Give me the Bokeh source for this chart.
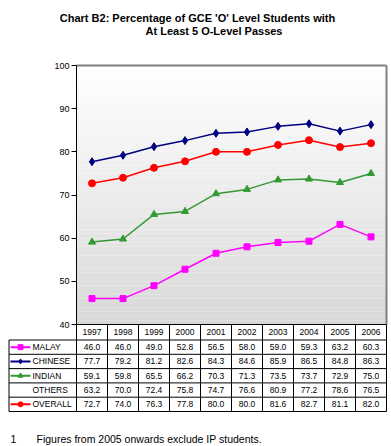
from bokeh.plotting import figure
from bokeh.models import Range1d, LinearAxis, FixedTicker
from bokeh.core.properties import value
from bokeh.embed import file_html
from bokeh.resources import INLINE

# ---------------- data ----------------
years = ["1997", "1998", "1999", "2000", "2001", "2002", "2003", "2004", "2005", "2006"]
malay = [46.0, 46.0, 49.0, 52.8, 56.5, 58.0, 59.0, 59.3, 63.2, 60.3]
chinese = [77.7, 79.2, 81.2, 82.6, 84.3, 84.6, 85.9, 86.5, 84.8, 86.3]
indian = [59.1, 59.8, 65.5, 66.2, 70.3, 71.3, 73.5, 73.7, 72.9, 75.0]
others = [63.2, 70.0, 72.4, 75.8, 74.7, 76.6, 80.9, 77.2, 78.6, 76.5]
overall = [72.7, 74.0, 76.3, 77.8, 80.0, 80.0, 81.6, 82.7, 81.1, 82.0]
series_names = ["MALAY", "CHINESE", "INDIAN", "OTHERS", "OVERALL"]
y_ticks = [40, 50, 60, 70, 80, 90, 100]
title_lines = ["Chart B2: Percentage of GCE 'O' Level Students with",
               "At Least 5 O-Level Passes"]
footnote_mark = "1"
footnote_text = "Figures from 2005 onwards exclude IP students."

# ---------------- styles ----------------
series_values = [malay, chinese, indian, others, overall]
series_colors = ["#FF00FF", "#000080", "#339933", None, "#FF0000"]
series_markers = ["square", "diamond", "triangle", None, "circle"]
series_msize = [6, 8, 7, None, 7]
FONT = value("Liberation Sans")

# pixel geometry helpers (page coords -> data coords)
W, H = 391, 446
ORG = 0                                      # page offset of the canvas
PLOT_L, PLOT_T, PLOT_B = 76, 65, 324         # page px of plot area
YMIN, YMAX = 40, 100
PXX = 31.0                                   # px per category column
KY = (PLOT_B - PLOT_T) / (YMAX - YMIN)       # px per y unit


def xp(page_x):
    return -0.5 + (page_x - PLOT_L) / PXX


def yp(page_y):
    return YMAX - (page_y - PLOT_T) / KY


p = figure(width=W, height=H, output_backend="svg", toolbar_location=None,
           x_range=Range1d(xp(ORG), xp(ORG + W)), y_range=Range1d(yp(ORG + H), yp(ORG)),
           x_axis_location=None, y_axis_location=None, min_border=0,
           background_fill_color="white", border_fill_color="white")
p.outline_line_color = None
p.grid.visible = False

n = len(years)
xs = list(range(n))
x_left, x_right = -0.5, n - 0.5

# plot area gradient background
nstrip = 60
for i in range(nstrip):
    f = (i + 0.5) / nstrip
    g = int(round(0xD8 + (0xFF - 0xD8) * f))
    y0 = YMIN + (YMAX - YMIN) * i / nstrip
    y1 = YMIN + (YMAX - YMIN) * (i + 1) / nstrip
    p.quad(left=x_left, right=x_right, bottom=y0, top=y1,
           fill_color="#%02x%02x%02x" % (g, g, g), line_color=None)

# plot area frame (top/right gray)
p.segment(x0=[x_left, x_right], y0=[YMAX, YMAX], x1=[x_right, x_right], y1=[YMAX, YMIN],
          line_color="#808080", line_width=2)

# y axis
yaxis = LinearAxis(fixed_location=x_left, bounds=(YMIN, YMAX),
                   ticker=FixedTicker(ticks=y_ticks))
yaxis.axis_line_color = "black"
yaxis.axis_line_width = 1
yaxis.major_tick_in = 0
yaxis.major_tick_out = 5
yaxis.major_tick_line_color = "black"
yaxis.minor_tick_line_color = None
yaxis.major_label_standoff = 2
yaxis.major_label_text_font = "Liberation Sans"
yaxis.major_label_text_font_size = "9px"
yaxis.major_label_text_color = "black"
p.add_layout(yaxis, "left")

# series lines
for vals, col, mk, ms in zip(series_values, series_colors, series_markers, series_msize):
    if col is None:
        continue
    p.line(xs, vals, line_color=col, line_width=1.5)
    p.scatter(xs, vals, marker=mk, size=ms, fill_color=col, line_color=col)

# ---------------- data table ----------------
hh = 15.5 / KY          # header row height (data units)
rh = 14.3 / KY          # body row height
tl = xp(8.5)            # table left edge
nrows = len(series_names)
bottom = YMIN - hh - nrows * rh

hx0, hy0, hx1, hy1 = [x_left], [YMIN], [x_right], [YMIN]
for r in range(nrows + 1):
    yy = YMIN - hh - r * rh
    hx0.append(tl); hy0.append(yy); hx1.append(x_right); hy1.append(yy)
for j in range(n + 1):
    hx0.append(x_left + j); hy0.append(YMIN); hx1.append(x_left + j); hy1.append(bottom)
hx0.append(tl); hy0.append(YMIN - hh); hx1.append(tl); hy1.append(bottom)
p.segment(x0=hx0, y0=hy0, x1=hx1, y1=hy1, line_color="black", line_width=1)

p.text(x=xs, y=[YMIN - hh / 2] * n, text=years, text_font=FONT, text_font_size="8.5px",
       text_align="center", text_baseline="middle", text_color="black")

for r, (name, vals, col, mk) in enumerate(zip(series_names, series_values, series_colors, series_markers)):
    yc = YMIN - hh - (r + 0.5) * rh
    p.text(x=xs, y=[yc] * n, text=["%.1f" % v for v in vals], text_font=FONT,
           text_font_size="8.5px", text_align="center", text_baseline="middle",
           text_color="black")
    p.text(x=[tl + 23.5 / PXX], y=[yc], text=[name], text_font=FONT, text_font_size="8.5px",
           text_align="left", text_baseline="middle", text_color="black")
    if col is not None:
        p.segment(x0=[tl + 1.5 / PXX], y0=[yc], x1=[tl + 21.5 / PXX], y1=[yc],
                  line_color=col, line_width=2)
        p.scatter([tl + 11.5 / PXX], [yc], marker=mk, size=5, fill_color=col, line_color=col)

# ---------------- title & footnote ----------------
p.text(x=[xp(197), xp(213.5)], y=[yp(17), yp(30)], text=title_lines, text_font=FONT,
       text_font_size="11px", text_font_style="bold", text_align="center",
       text_baseline="middle", text_color="black")
p.text(x=[xp(10)], y=[yp(438)], text=[footnote_mark], text_font=FONT, text_font_size="10.5px",
       text_align="left", text_baseline="middle", text_color="black")
p.text(x=[xp(36)], y=[yp(438)], text=[footnote_text], text_font=FONT, text_font_size="10.5px",
       text_align="left", text_baseline="middle", text_color="black")

open("out.html", "w").write(file_html(p, INLINE))
